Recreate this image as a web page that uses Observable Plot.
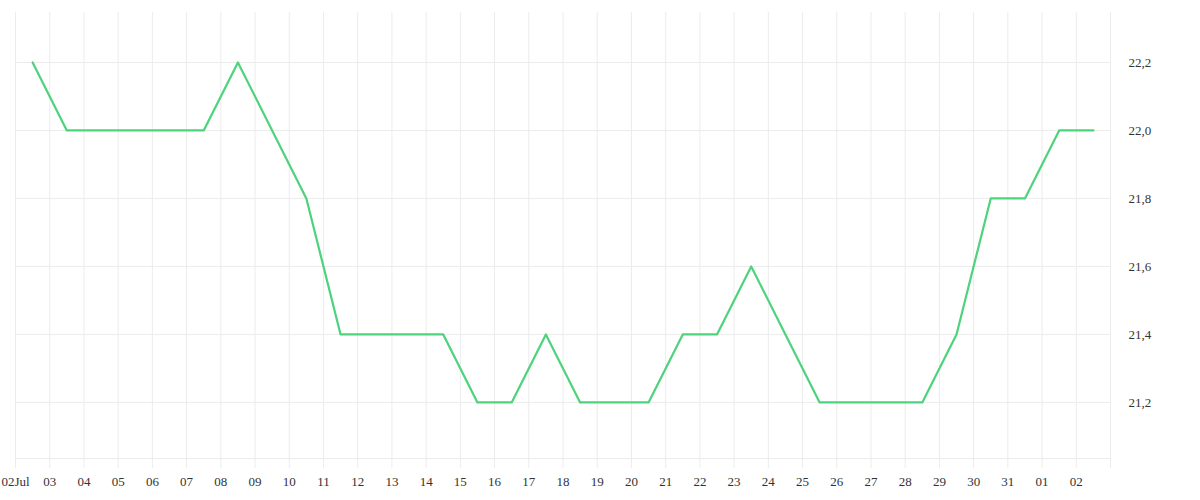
<!DOCTYPE html>
<html>
<head>
<meta charset="utf-8">
<script src="https://cdn.jsdelivr.net/npm/d3@7"></script>
<script src="https://cdn.jsdelivr.net/npm/@observablehq/plot@0.6"></script>
<style>
  html, body { margin: 0; padding: 0; background: #fff; }
  svg { display: block; }
</style>
</head>
<body>
<div id="chart"></div>
<script>
// Daily readings (noon of each day), Jul 2 – Aug 2
const days = ["2024-07-02","2024-07-03","2024-07-04","2024-07-05","2024-07-06","2024-07-07","2024-07-08","2024-07-09",
  "2024-07-10","2024-07-11","2024-07-12","2024-07-13","2024-07-14","2024-07-15","2024-07-16","2024-07-17",
  "2024-07-18","2024-07-19","2024-07-20","2024-07-21","2024-07-22","2024-07-23","2024-07-24","2024-07-25",
  "2024-07-26","2024-07-27","2024-07-28","2024-07-29","2024-07-30","2024-07-31","2024-08-01","2024-08-02"];
const values = [22.2,22.0,22.0,22.0,22.0,22.0,22.2,22.0,
  21.8,21.4,21.4,21.4,21.4,21.2,21.2,21.4,
  21.2,21.2,21.2,21.4,21.4,21.6,21.4,21.2,
  21.2,21.2,21.2,21.4,21.8,21.8,22.0,22.0];
const gridDays = [...days, "2024-08-03"];
const yTicks = [21.2, 21.4, 21.6, 21.8, 22.0, 22.2];
const yDomain = [21.035, 22.347];

const parse = s => new Date(s + "T00:00:00Z");
const data = days.map((d, i) => ({date: new Date(parse(d).getTime() + 12 * 3600e3), value: values[i]}));
const gridDates = gridDays.map(parse);
const tickDates = days.map(parse);
const fmtX = (d, i) => i === 0 ? d3.utcFormat("%d")(d) + "Jul" : d3.utcFormat("%d")(d);
const fmtY = v => v.toFixed(1).replace(".", ",");

const chart = Plot.plot({
  width: 1200,
  height: 500,
  marginLeft: 15,
  marginRight: 90,
  marginTop: 12,
  marginBottom: 42,
  style: {fontFamily: "'Liberation Serif', serif", fontSize: "13px", color: "#333", background: "#fff"},
  x: {type: "utc", domain: [gridDates[0], gridDates[gridDates.length - 1]]},
  y: {domain: yDomain},
  marks: [
    Plot.ruleX(gridDates, {stroke: "#ececec", strokeWidth: 1, insetBottom: -10}),
    Plot.ruleY(yTicks, {stroke: "#ececec", strokeWidth: 1}),
    Plot.ruleY([yDomain[0]], {stroke: "#ececec", strokeWidth: 1}),
    Plot.axisX({ticks: tickDates, tickFormat: fmtX, tickSize: 0, tickPadding: 18, label: null, fill: "#333", fontSize: 13}),
    Plot.axisY({anchor: "right", ticks: yTicks, tickFormat: fmtY, tickSize: 0, tickPadding: 18, label: null, fill: "#333", fontSize: 13}),
    Plot.line(data, {x: "date", y: "value", stroke: "#4cd37b", strokeWidth: 2.2})
  ]
});
document.getElementById("chart").appendChild(chart);
</script>
</body>
</html>
